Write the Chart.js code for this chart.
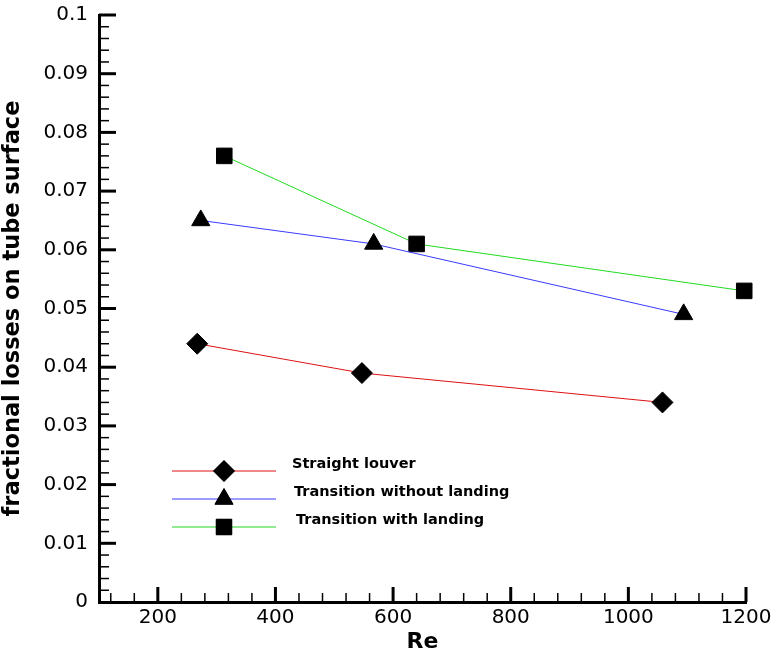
<!DOCTYPE html>
<html>
<head>
<meta charset="utf-8">
<script src="https://cdn.jsdelivr.net/npm/chart.js@4.4.0/dist/chart.umd.min.js"></script>
<style>
  html, body { margin: 0; padding: 0; background: #fff; }
  #wrap { width: 771px; height: 655px; }
</style>
</head>
<body>
<div id="wrap"><canvas id="chart" width="771" height="655"></canvas></div>
<script>
// data
var seriesNames = ['Straight louver', 'Transition without landing', 'Transition with landing'];
var straightRe   = [267, 547, 1058];
var straightLoss = [0.044, 0.039, 0.034];
var noLandRe     = [273, 567, 1094];
var noLandLoss   = [0.065, 0.061, 0.049];
var landRe       = [313, 640, 1197];
var landLoss     = [0.076, 0.061, 0.053];

var lineColors = ['#dd1111', '#3a3aff', '#22d822'];
var markers = ['rectRot', 'triangle', 'rect'];
var markerSizes = [10.5, 10.5, 11];

var FONT = '"DejaVu Sans", Arial, sans-serif';

function pts(xs, ys){
  var out = [];
  for (var i = 0; i < xs.length; i++) out.push({x: xs[i], y: ys[i]});
  return out;
}

// inward ticks (major + minor) along the two axes
var axisTicks = {
  id: 'axisTicks',
  afterDraw: function(chart){
    var ctx = chart.ctx, xs = chart.scales.x, ys = chart.scales.y;
    var left = xs.left, bottom = ys.bottom;
    ctx.save();
    ctx.strokeStyle = '#000';
    ctx.lineCap = 'butt';
    // x axis
    for (var v = 120; v <= 1200; v += 40) {
      var px = xs.getPixelForValue(v);
      var major = v % 200 === 0;
      ctx.lineWidth = major ? 3 : 1.5;
      ctx.beginPath();
      ctx.moveTo(px, bottom);
      ctx.lineTo(px, bottom - (major ? 15 : 9));
      ctx.stroke();
    }
    // y axis
    for (var k = 1; k <= 50; k++) {
      var py = ys.getPixelForValue(k * 0.002);
      var maj = k % 5 === 0;
      ctx.lineWidth = maj ? 3 : 1.5;
      ctx.beginPath();
      ctx.moveTo(left, py);
      ctx.lineTo(left + (maj ? 17 : 10), py);
      ctx.stroke();
    }
    ctx.restore();
  }
};

// legend drawn inside the plot like the original
var insideLegend = {
  id: 'insideLegend',
  afterDraw: function(chart){
    var ctx = chart.ctx, ca = chart.chartArea;
    var x0 = ca.left + 73, x1 = ca.left + 177, xm = ca.left + 125;
    var rows = [ca.top + 456, ca.top + 484, ca.top + 512];
    var textX = [ca.left + 193, ca.left + 195, ca.left + 197];
    ctx.save();
    for (var i = 0; i < seriesNames.length; i++) {
      var y = rows[i];
      ctx.strokeStyle = lineColors[i];
      ctx.lineWidth = 1;
      ctx.beginPath();
      ctx.moveTo(x0, y);
      ctx.lineTo(x1, y);
      ctx.stroke();
      ctx.fillStyle = '#000';
      ctx.strokeStyle = '#000';
      Chart.helpers.drawPoint(ctx, {pointStyle: markers[i], radius: markerSizes[i], rotation: 0, borderWidth: 1}, xm, y);
      ctx.fill();
      ctx.fillStyle = '#000';
      ctx.font = 'bold 14.5px ' + FONT;
      ctx.textBaseline = 'middle';
      ctx.textAlign = 'left';
      ctx.fillText(seriesNames[i], textX[i], y - 7);
    }
    ctx.restore();
  }
};

var allData = [pts(straightRe, straightLoss), pts(noLandRe, noLandLoss), pts(landRe, landLoss)];
var datasets = [];
for (var i = 0; i < 3; i++) {
  datasets.push({
    label: seriesNames[i],
    data: allData[i],
    borderColor: lineColors[i],
    borderWidth: 1,
    backgroundColor: '#000',
    pointStyle: markers[i],
    pointRadius: markerSizes[i],
    pointBackgroundColor: '#000',
    pointBorderColor: '#000',
    pointBorderWidth: 1,
    showLine: true,
    tension: 0,
    clip: false
  });
}

var tickFont = {family: FONT, size: 20};

new Chart(document.getElementById('chart').getContext('2d'), {
  type: 'scatter',
  data: {datasets: datasets},
  plugins: [axisTicks, insideLegend],
  options: {
    responsive: false,
    animation: false,
    layout: {padding: {left: 0, top: 15, right: 25, bottom: 0}},
    plugins: {legend: {display: false}, tooltip: {enabled: false}},
    scales: {
      x: {
        type: 'linear',
        min: 100, max: 1200,
        ticks: {stepSize: 200, color: '#000', font: tickFont, padding: 4, maxRotation: 0,
                callback: function(v){ return String(v); }},
        afterBuildTicks: function(s){ s.ticks = s.ticks.filter(function(t){ return t.value % 200 === 0; }); },
        grid: {display: false, drawTicks: false},
        border: {display: true, color: '#000', width: 3},
        title: {display: true, text: 'Re', color: '#000', padding: {top: 0, bottom: 0},
                font: {family: FONT, size: 22, weight: 'bold'}},
        afterFit: function(s){ s.height = 53; s.paddingLeft = 0; s.paddingRight = 0; }
      },
      y: {
        min: 0, max: 0.1,
        ticks: {stepSize: 0.01, color: '#000', font: tickFont, padding: 11,
                callback: function(v){ return String(+v.toFixed(2)); }},
        grid: {display: false, drawTicks: false},
        border: {display: true, color: '#000', width: 3},
        title: {display: true, text: 'fractional losses on tube surface', color: '#000', padding: {top: 0, bottom: 0},
                font: {family: FONT, size: 22.5, weight: 'bold'}},
        afterFit: function(s){ s.width = 99; s.paddingTop = 0; s.paddingBottom = 0; }
      }
    }
  }
});
</script>
</body>
</html>
